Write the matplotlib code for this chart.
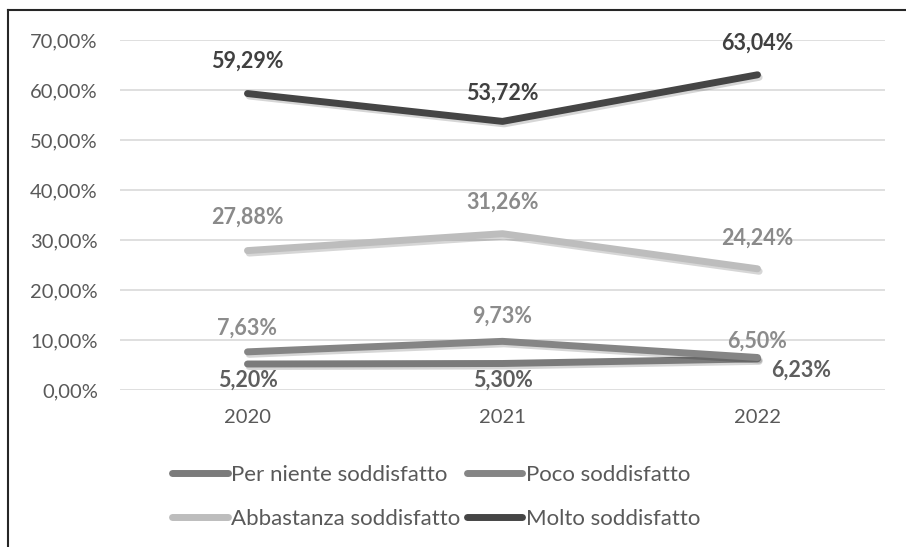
import matplotlib.pyplot as plt
import matplotlib.patheffects as pe
from matplotlib.lines import Line2D
from matplotlib.ticker import FuncFormatter

plt.rcParams['font.family'] = ['Lato', 'DejaVu Sans']

# data (values in %)
years = ['2020', '2021', '2022']
series_names = ['Per niente soddisfatto', 'Poco soddisfatto',
                'Abbastanza soddisfatto', 'Molto soddisfatto']
per_niente = [5.20, 5.30, 6.23]
poco = [7.63, 9.73, 6.50]
abbastanza = [27.88, 31.26, 24.24]
molto = [59.29, 53.72, 63.04]

# styles
line_colors = ['#7b7b7b', '#858585', '#bdbdbd', '#454545']
label_colors = ['#5e5e5e', '#8c8c8c', '#8a8a8a', '#404040']
# label placement per series: (dx, dy) in points and alignment
label_pos = [
    [(0, -12, 'center'), (0, -12, 'center'), (10, -8, 'left')],
    [(0, 17, 'center'), (0, 18, 'center'), (0, 12, 'center')],
    [(0, 24, 'center'), (0, 23, 'center'), (0, 22, 'center')],
    [(0, 23, 'center'), (0, 20, 'center'), (0, 23, 'center')],
]


def pct(v, pos=None):
    return f'{v:.2f}'.replace('.', ',') + '%'


fig = plt.figure(figsize=(9.06, 5.47), dpi=100)
ax = fig.add_axes([120 / 906, 1 - 390 / 547, 765 / 906, 350 / 547])

x = list(range(len(years)))
shadow = [pe.SimpleLineShadow(offset=(1.2, -1.8), alpha=0.16, shadow_color='black'), pe.Normal()]

for i, vals in enumerate([per_niente, poco, abbastanza, molto]):
    ax.plot(x, vals, color=line_colors[i], lw=5, solid_capstyle='round',
            solid_joinstyle='round', path_effects=shadow, zorder=3 + i,
            label=series_names[i])
    for j, v in enumerate(vals):
        dx, dy, ha = label_pos[i][j]
        ax.annotate(pct(v), (x[j], v), xytext=(dx, dy), textcoords='offset points',
                    ha=ha, va='center', fontsize=15.5, fontweight='bold',
                    color=label_colors[i], zorder=10)

ax.set_xlim(-0.5, 2.5)
ax.set_ylim(0, 70)
ax.set_yticks(range(0, 71, 10))
ax.yaxis.set_major_formatter(FuncFormatter(pct))
ax.set_xticks(x)
ax.set_xticklabels(years)
ax.grid(axis='y', color='#d9d9d9', lw=1.2)
ax.set_axisbelow(True)
for s in ax.spines.values():
    s.set_visible(False)
ax.tick_params(length=0, labelsize=14.5, labelcolor='#595959')
ax.tick_params(axis='y', pad=16)
ax.tick_params(axis='x', pad=14)

# legend: row-wise order in two columns
leg_handles = [Line2D([], [], color=line_colors[k], lw=5, solid_capstyle='round') for k in range(4)]
order = [0, 2, 1, 3]
fig.legend([leg_handles[k] for k in order], [series_names[k] for k in order],
           ncol=2, loc='center', bbox_to_anchor=(436 / 906, 1 - 497 / 547),
           frameon=False, fontsize=16, handlelength=2.5, handletextpad=0.15,
           columnspacing=0.3, labelspacing=1.1, labelcolor='#595959')

# outer frame (partly outside the image)
fig.add_artist(Line2D([8 / 906, 8 / 906], [0, 1 - 10 / 547], transform=fig.transFigure,
                      color='#262626', lw=1.5))
fig.add_artist(Line2D([8 / 906, 1], [1 - 10 / 547, 1 - 10 / 547], transform=fig.transFigure,
                      color='#262626', lw=1.5))

fig.savefig('out.png', dpi=100)
